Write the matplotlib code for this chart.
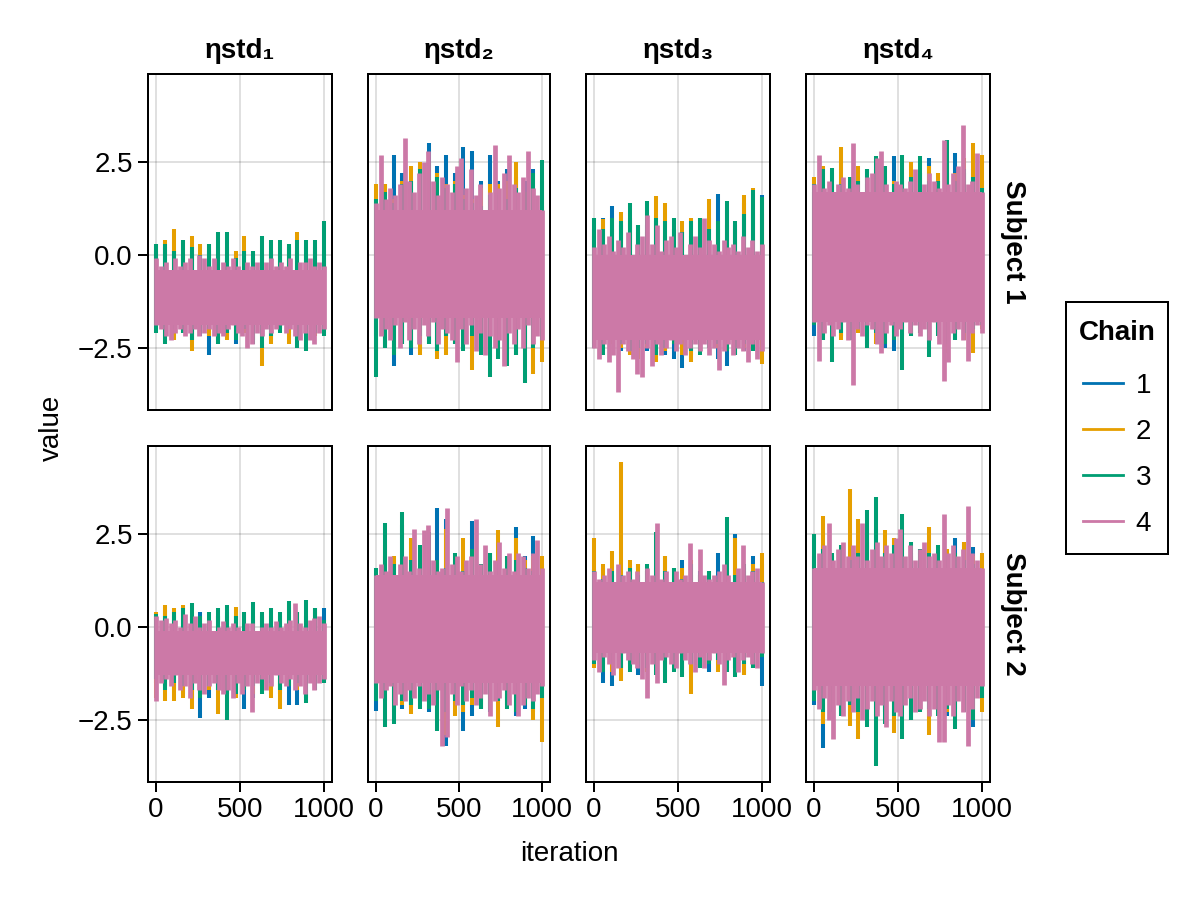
import numpy as np
import matplotlib
matplotlib.use("Agg")
import matplotlib.pyplot as plt
from matplotlib.lines import Line2D
from matplotlib.patches import Rectangle

plt.rcParams['font.family'] = ['Liberation Sans', 'DejaVu Sans']

# Values. Each list alternates high, low, high, low...
# along the chain, since only the extremes of the traces can be told apart.

# Subject 1, eta 1
s1e1_c1 = [0.1,-1.9, 0.2,-2.0, 0.1,-2.2, 0.0,-2.1, 0.1,-2.3, 0.0,-2.2, 0.1,-2.7, 0.0,-2.3, -0.1,-2.2, 0.0,-2.4, 0.1,-2.1, -0.1,-2.3, 0.0,-2.2, 0.1,-2.3, 0.0,-2.0, 0.2,-2.1, 0.1,-2.3, 0.0,-2.2, 0.2,-2.0, 0.1,-2.0]
s1e1_c2 = [0.3,-1.9, 0.4,-2.2, 0.7,-2.3, 0.4,-2.0, 0.5,-2.6, 0.3,-2.1, 0.3,-2.2, 0.2,-2.4, 0.2,-2.3, 0.1,-2.1, 0.5,-2.1, 0.1,-2.3, 0.0,-3.0, 0.1,-2.4, 0.2,-2.0, 0.3,-2.4, 0.6,-1.9, 0.2,-2.0, 0.1,-2.2, -0.1,-2.1]
s1e1_c3 = [0.3,-2.1, 0.3,-2.4, 0.1,-2.0, 0.4,-2.1, 0.2,-2.3, 0.0,-2.1, 0.3,-2.0, 0.6,-2.4, 0.6,-2.1, -0.1,-2.3, 0.1,-2.0, 0.1,-2.4, 0.5,-2.5, 0.4,-2.2, 0.4,-2.1, 0.3,-2.0, 0.4,-2.5, 0.4,-2.6, 0.4,-2.1, 0.9,-2.2]
s1e1_c4 = [-0.1,-1.9, -0.3,-2.0, -0.2,-2.2, -0.4,-2.3, -0.1,-2.1, -0.3,-2.0, -0.2,-2.2, -0.1,-2.1, -0.4,-2.0, 0.0,-2.2, -0.1,-2.1, -0.3,-2.0, -0.1,-2.2, -0.4,-2.1, -0.2,-2.2, -0.3,-2.0, -0.1,-1.9, -0.3,-2.1, -0.4,-2.2, -0.2,-2.5, -0.3,-2.4, -0.2,-2.1, -0.4,-2.2, -0.2,-2.0, -0.1,-2.1, -0.3,-2.0, -0.2,-1.9, -0.3,-2.1, -0.1,-2.0, -0.4,-2.2, -0.2,-2.3, -0.2,-2.1, -0.1,-2.3, -0.3,-2.4, -0.2,-2.1, -0.3,-2.0]

# Subject 1, eta 2
s1e2_c1 = [1.5,-2.2, 1.9,-2.5, 2.7,-3.0, 2.2,-2.4, 2.0,-2.7, 2.4,-2.6, 3.0,-2.4, 2.4,-2.5, 2.7,-2.3, 2.2,-2.4, 2.9,-2.2, 2.8,-2.3, 2.0,-2.6, 2.7,-2.3, 2.0,-2.2, 2.3,-2.5, 2.1,-2.7, 2.0,-2.4, 2.3,-2.3, 2.0,-2.1]
s1e2_c2 = [1.9,-2.6, 1.9,-2.4, 1.5,-2.5, 2.0,-2.2, 2.4,-2.5, 2.5,-2.7, 1.8,-2.4, 2.2,-2.8, 1.9,-2.7, 2.0,-2.4, 1.6,-2.5, 1.5,-3.1, 1.8,-2.6, 1.9,-2.4, 1.9,-2.5, 2.0,-2.7, 2.5,-2.3, 1.7,-2.6, 1.4,-3.2, 1.3,-2.9]
s1e2_c3 = [1.5,-3.3, 1.7,-2.5, 1.4,-2.7, 1.9,-2.4, 2.0,-2.5, 2.3,-2.2, 2.5,-2.4, 2.1,-2.6, 1.8,-2.2, 1.9,-2.4, 1.5,-2.6, 1.4,-2.2, 1.3,-2.7, 1.6,-3.3, 1.6,-2.8, 1.5,-3.0, 1.8,-2.7, 1.7,-3.45, 2.2,-2.5, 2.55,-2.3]
s1e2_c4 = [1.4,-1.7, 2.7,-2.2, 1.5,-2.0, 1.8,-2.3, 1.6,-1.9, 1.9,-2.5, 3.15,-1.8, 2.0,-2.3, 1.7,-2.0, 2.2,-2.4, 2.5,-1.9, 2.8,-2.2, 2.0,-1.8, 1.6,-2.4, 2.1,-2.0, 1.9,-2.1, 1.7,-2.3, 2.4,-2.9, 2.6,-2.0, 1.8,-2.4, 2.3,-1.9, 1.6,-2.6, 1.9,-2.1, 1.2,-2.7, 1.7,-2.2, 2.95,-2.5, 1.8,-2.3, 2.2,-3.0, 2.7,-2.1, 1.9,-2.4, 1.7,-2.0, 2.1,-2.5, 2.8,-1.9, 1.8,-2.4, 1.6,-2.2, 1.2,-2.3]

# Subject 1, eta 3
s1e3_c1 = [0.7,-2.5, 1.0,-2.4, 1.3,-2.3, 0.8,-2.6, 1.0,-2.5, 0.6,-2.8, 0.8,-2.6, 0.9,-2.4, 0.5,-2.7, 0.7,-2.8, 0.6,-3.05, 0.5,-2.7, 0.5,-2.6, 1.0,-2.5, 1.65,-2.8, 1.2,-3.0, 0.8,-2.7, 1.4,-2.6, 1.2,-2.5, 1.6,-2.9]
s1e3_c2 = [0.5,-2.4, 0.95,-2.6, 0.7,-2.4, 1.15,-2.5, 0.9,-2.7, 0.8,-2.8, 0.6,-2.5, 1.57,-2.9, 1.4,-2.6, 0.7,-2.4, 0.9,-2.7, 1.0,-2.9, 1.0,-2.5, 1.5,-2.4, 0.7,-2.5, 0.8,-2.3, 0.7,-2.7, 1.6,-2.5, 1.8,-2.6, 1.1,-2.95]
s1e3_c3 = [1.0,-2.5, 0.7,-2.7, 1.0,-2.3, 0.9,-2.4, 1.4,-2.6, 0.8,-2.5, 1.45,-2.4, 1.0,-2.7, 0.9,-2.5, 1.0,-2.4, 0.6,-2.3, 0.9,-2.6, 1.0,-2.7, 0.7,-2.5, 0.9,-2.4, 1.45,-2.6, 0.9,-2.7, 1.1,-2.4, 1.75,-2.6, 1.55,-2.2]
s1e3_c4 = [0.2,-2.5, 0.7,-2.8, 0.3,-2.4, 0.5,-2.9, 0.1,-2.7, 0.4,-3.7, 0.2,-2.4, 0.6,-2.6, 0.0,-2.8, 0.3,-3.2, 0.5,-3.3, 1.08,-2.5, 0.3,-3.0, 0.8,-2.4, 0.1,-2.7, 0.4,-2.5, 0.5,-2.3, 0.2,-2.6, 0.6,-2.4, 0.0,-2.7, 0.3,-2.5, 0.5,-2.4, 0.2,-2.6, 1.0,-2.4, 0.4,-2.7, 0.3,-2.5, 0.1,-3.1, 0.4,-2.6, 0.2,-2.4, 0.3,-2.7, 0.1,-2.5, 0.5,-2.6, 0.2,-2.9, 0.4,-2.4, 0.1,-2.8, 0.3,-2.6]

# Subject 1, eta 4
s1e4_c1 = [1.7,-2.2, 1.5,-2.3, 1.9,-1.9, 2.0,-2.2, 1.8,-2.3, 2.1,-1.9, 2.3,-2.4, 2.0,-2.0, 1.6,-2.5, 2.65,-2.6, 2.0,-2.2, 2.1,-2.1, 2.2,-2.0, 2.6,-2.4, 2.0,-2.1, 2.2,-2.2, 2.75,-2.3, 2.2,-2.2, 2.3,-2.0, 2.0,-1.8]
s1e4_c2 = [2.1,-1.7, 2.4,-2.1, 2.2,-1.9, 2.9,-2.3, 2.0,-2.0, 2.4,-2.1, 1.9,-2.2, 2.3,-2.4, 2.1,-2.3, 2.0,-2.1, 2.3,-1.8, 2.5,-2.2, 2.2,-2.1, 2.4,-2.2, 2.2,-2.0, 1.9,-2.65, 2.2,-2.1, 2.6,-2.3, 3.0,-2.65, 2.7,-2.0]
s1e4_c3 = [1.9,-1.9, 2.3,-2.3, 2.35,-2.9, 1.9,-2.1, 2.1,-2.3, 2.0,-2.0, 2.3,-2.5, 2.65,-2.1, 2.4,-2.4, 1.9,-2.3, 2.7,-3.1, 2.1,-2.2, 2.65,-2.1, 2.0,-2.75, 2.0,-2.2, 3.1,-2.4, 2.0,-2.3, 2.3,-2.1, 2.1,-2.0, 1.8,-1.9]
s1e4_c4 = [1.9,-1.8, 2.7,-2.85, 1.8,-2.1, 2.0,-1.9, 1.7,-2.2, 1.9,-2.0, 2.1,-1.8, 1.8,-2.3, 3.0,-3.5, 1.9,-2.0, 1.7,-2.2, 2.1,-1.9, 2.2,-2.0, 2.6,-2.4, 2.8,-2.65, 1.9,-2.1, 1.7,-1.9, 2.0,-2.2, 1.9,-2.0, 1.8,-1.8, 2.0,-2.1, 2.3,-1.9, 1.7,-2.2, 1.9,-2.0, 2.2,-2.3, 2.0,-1.8, 1.8,-2.4, 3.1,-3.4, 1.9,-2.9, 2.2,-2.1, 2.4,-2.0, 3.5,-2.3, 1.9,-2.85, 2.0,-2.1, 2.75,-1.9, 1.7,-2.1]

# Subject 2, eta 1
s2e1_c1 = [0.3,-1.5, 0.45,-1.6, 0.3,-1.7, 0.2,-1.8, 0.3,-1.9, 0.4,-2.45, 0.1,-1.9, 0.3,-1.7, 0.4,-1.8, 0.3,-1.7, 0.1,-2.2, 0.2,-1.9, 0.3,-1.6, 0.2,-1.7, 0.3,-1.8, 0.1,-2.1, 0.4,-2.1, 0.3,-1.9, 0.5,-1.7, 0.5,-1.5]
s2e1_c2 = [0.4,-1.9, 0.6,-2.0, 0.5,-2.0, 0.6,-1.9, 0.4,-2.2, 0.3,-1.8, 0.2,-1.7, 0.3,-2.35, 0.3,-1.8, 0.55,-1.9, 0.4,-1.7, 0.3,-1.8, 0.2,-1.6, 0.3,-1.9, 0.2,-2.2, 0.6,-1.6, 0.4,-1.7, 0.2,-1.6, 0.4,-1.5, 0.2,-1.3]
s2e1_c3 = [0.35,-1.4, 0.3,-1.7, 0.4,-1.5, 0.5,-1.6, 0.65,-1.7, 0.3,-1.9, 0.4,-1.6, 0.5,-1.7, 0.6,-2.5, 0.3,-1.8, 0.4,-1.7, 0.67,-1.6, 0.4,-1.8, 0.5,-1.5, 0.4,-1.7, 0.7,-1.6, 0.4,-1.5, 0.73,-2.05, 0.5,-1.7, 0.2,-1.5]
s2e1_c4 = [0.3,-2.0, 0.2,-1.5, 0.25,-1.4, 0.1,-1.6, 0.2,-1.3, 0.0,-1.7, 0.35,-1.6, 0.1,-1.9, 0.3,-1.5, 0.0,-1.7, 0.1,-1.8, 0.2,-1.6, -0.1,-1.5, 0.0,-1.7, 0.15,-1.8, 0.0,-1.7, 0.1,-1.9, 0.0,-1.5, -0.1,-1.8, 0.1,-1.6, 0.1,-2.3, -0.1,-1.5, 0.0,-1.4, 0.1,-1.7, 0.0,-1.6, 0.15,-1.3, 0.0,-1.5, 0.1,-1.6, 0.2,-1.4, 0.65,-1.7, 0.1,-1.6, 0.0,-1.8, 0.2,-1.5, 0.25,-1.7, 0.3,-1.5, 0.1,-1.4]

# Subject 2, eta 2
s2e2_c1 = [1.4,-2.25, 1.9,-1.6, 1.7,-2.0, 2.75,-2.2, 1.6,-2.1, 1.5,-1.9, 1.8,-2.3, 3.2,-1.9, 2.9,-3.2, 1.7,-2.1, 1.5,-2.8, 2.85,-2.4, 1.6,-2.2, 2.0,-2.3, 1.8,-2.0, 1.6,-2.1, 2.7,-2.4, 1.9,-2.2, 2.45,-2.3, 1.7,-2.3]
s2e2_c2 = [1.3,-1.6, 2.2,-2.0, 1.9,-2.3, 1.5,-2.1, 2.4,-2.35, 1.7,-2.0, 1.9,-2.2, 1.8,-1.9, 2.65,-2.9, 1.8,-2.4, 2.4,-2.3, 1.7,-2.1, 1.6,-2.2, 1.9,-1.9, 2.6,-2.7, 1.9,-2.2, 2.4,-2.3, 1.8,-2.0, 1.9,-2.5, 1.9,-3.1]
s2e2_c3 = [1.6,-2.0, 2.8,-2.7, 1.7,-2.6, 3.1,-2.0, 1.8,-2.1, 2.2,-2.2, 2.55,-2.2, 1.8,-2.8, 1.6,-2.3, 2.0,-2.0, 1.5,-2.1, 2.1,-1.9, 1.7,-2.2, 2.0,-2.2, 1.7,-2.0, 1.9,-2.2, 1.8,-2.3, 1.6,-2.1, 1.5,-2.2, 1.4,-1.9]
s2e2_c4 = [1.4,-1.5, 1.7,-1.9, 1.5,-1.7, 1.9,-1.6, 1.4,-2.1, 1.7,-1.8, 1.9,-2.0, 1.5,-1.7, 2.65,-1.9, 1.6,-1.6, 2.6,-2.0, 2.75,-1.8, 1.8,-2.1, 1.5,-1.7, 1.6,-3.2, 3.2,-2.95, 1.7,-1.8, 1.9,-2.1, 1.5,-1.6, 1.8,-2.0, 1.9,-1.7, 2.9,-2.1, 1.7,-1.9, 2.2,-1.8, 1.5,-2.4, 1.8,-2.0, 2.3,-1.9, 1.6,-1.7, 2.0,-2.1, 1.5,-1.8, 2.0,-2.4, 1.9,-2.1, 1.6,-1.9, 2.0,-2.0, 2.35,-1.8, 1.6,-1.6]

# Subject 2, eta 3
s2e3_c1 = [1.55,-0.8, 1.6,-1.5, 1.4,-1.6, 1.5,-1.1, 1.6,-1.0, 1.7,-1.3, 1.5,-1.2, 1.3,-0.9, 1.9,-1.2, 1.6,-1.0, 1.8,-1.3, 1.4,-1.2, 1.5,-1.0, 1.3,-1.2, 2.0,-0.9, 1.5,-1.1, 2.5,-1.1, 1.6,-1.3, 1.9,-1.1, 1.7,-1.6]
s2e3_c2 = [2.4,-1.1, 1.7,-1.0, 2.05,-1.2, 4.45,-1.45, 1.8,-1.1, 1.7,-0.9, 1.5,-1.2, 1.6,-1.0, 1.9,-1.0, 1.4,-0.9, 1.6,-1.1, 1.8,-1.8, 1.4,-0.9, 1.5,-1.0, 1.3,-1.2, 1.6,-1.0, 2.4,-1.1, 1.5,-1.3, 1.7,-1.1, 2.0,-0.7]
s2e3_c3 = [1.5,-1.0, 1.3,-1.2, 1.5,-1.0, 1.4,-1.1, 1.6,-1.2, 1.4,-1.0, 1.7,-1.1, 2.55,-1.3, 1.5,-1.5, 1.6,-1.2, 1.3,-1.35, 1.7,-1.0, 1.4,-1.1, 1.5,-1.0, 1.3,-0.9, 2.95,-1.2, 1.4,-1.35, 1.7,-1.0, 1.5,-1.1, 1.2,-0.8]
s2e3_c4 = [1.5,-0.9, 1.3,-1.2, 1.4,-0.8, 1.6,-1.0, 1.2,-1.3, 1.7,-1.1, 1.4,-0.7, 1.5,-0.9, 1.3,-1.0, 1.5,-1.1, 1.2,-1.4, 1.6,-1.9, 1.4,-1.0, 2.8,-1.5, 1.3,-0.9, 1.5,-0.8, 1.2,-1.0, 1.5,-1.1, 1.3,-0.7, 1.4,-0.9, 2.25,-1.0, 1.2,-1.2, 2.1,-0.8, 1.4,-1.1, 1.3,-0.9, 1.4,-0.7, 1.5,-1.0, 1.7,-1.55, 1.4,-0.9, 1.2,-0.8, 1.6,-1.2, 2.2,-0.9, 1.4,-0.8, 1.5,-1.0, 1.6,-1.1, 1.2,-0.7]

# Subject 2, eta 4
s2e4_c1 = [1.9,-2.1, 2.2,-3.25, 1.9,-2.3, 2.0,-2.2, 1.9,-2.4, 1.8,-2.2, 2.3,-2.3, 2.65,-2.2, 2.0,-2.3, 1.7,-2.4, 1.8,-2.0, 2.0,-2.5, 2.1,-2.2, 1.9,-2.3, 1.8,-2.1, 1.9,-2.4, 2.4,-2.2, 2.3,-2.1, 2.15,-2.7, 1.9,-1.9]
s2e4_c2 = [1.8,-1.8, 3.0,-2.6, 1.9,-2.1, 2.1,-2.3, 3.7,-2.65, 2.9,-3.0, 2.2,-2.5, 2.0,-2.4, 2.6,-2.3, 2.4,-2.85, 2.1,-2.1, 1.9,-2.2, 2.0,-2.3, 2.7,-2.9, 1.9,-2.2, 2.1,-2.3, 2.0,-2.4, 2.3,-2.0, 1.9,-2.2, 2.0,-2.3]
s2e4_c3 = [2.5,-2.0, 2.1,-2.3, 2.0,-2.2, 2.2,-2.4, 1.8,-2.1, 2.0,-2.3, 3.15,-2.7, 3.5,-3.75, 2.0,-2.6, 2.2,-2.4, 3.05,-3.0, 2.3,-2.5, 2.1,-2.3, 2.0,-2.2, 2.2,-2.4, 1.9,-2.2, 2.0,-2.75, 1.8,-2.3, 1.7,-2.5, 1.5,-1.9]
s2e4_c4 = [1.6,-1.7, 2.0,-2.2, 2.2,-1.9, 2.8,-2.5, 1.8,-3.0, 2.1,-2.1, 2.3,-2.4, 1.9,-2.0, 2.2,-2.3, 1.9,-1.9, 2.8,-2.5, 1.8,-2.2, 2.1,-2.0, 2.3,-2.4, 1.9,-2.1, 2.2,-2.7, 2.0,-2.0, 2.4,-2.3, 2.65,-2.4, 1.9,-2.1, 2.2,-1.9, 1.8,-2.3, 2.1,-2.2, 2.3,-2.0, 1.9,-2.4, 2.0,-2.2, 1.8,-3.1, 3.05,-3.1, 2.0,-2.1, 2.2,-2.4, 1.9,-2.0, 2.1,-2.3, 3.25,-3.2, 2.0,-2.2, 1.8,-1.9, 1.6,-1.6]

etas = ['ηstd₁', 'ηstd₂', 'ηstd₃', 'ηstd₄']
subjects = ['Subject 1', 'Subject 2']
chains = ['1', '2', '3', '4']
colors = ['#0072B2', '#E69F00', '#009E73', '#CC79A7']
yticks = [-2.5, 0, 2.5]
xticks = [0, 500, 1000]

traces = [
    [[s1e1_c1, s1e1_c2, s1e1_c3, s1e1_c4], [s1e2_c1, s1e2_c2, s1e2_c3, s1e2_c4],
     [s1e3_c1, s1e3_c2, s1e3_c3, s1e3_c4], [s1e4_c1, s1e4_c2, s1e4_c3, s1e4_c4]],
    [[s2e1_c1, s2e1_c2, s2e1_c3, s2e1_c4], [s2e2_c1, s2e2_c2, s2e2_c3, s2e2_c4],
     [s2e3_c1, s2e3_c2, s2e3_c3, s2e3_c4], [s2e4_c1, s2e4_c2, s2e4_c3, s2e4_c4]],
]

W, H = 1200, 900
FS = 20
LW = 1.44

# panel edges in pixels
col_edges = [(148, 332), (368, 550), (586, 770), (806, 990)]
row_edges = [(74, 409.5), (446, 782)]

fig = plt.figure(figsize=(W / 100, H / 100), dpi=100)

for r, (top, bottom) in enumerate(row_edges):
    for c, (left, right) in enumerate(col_edges):
        ax = fig.add_axes([left / W, 1 - bottom / H, (right - left) / W, (bottom - top) / H])
        for k, vals in enumerate(traces[r][c]):
            highs = np.array(vals[::2])
            lows = np.array(vals[1::2])
            x = np.linspace(1, 1000, len(highs))
            # last chain sits on top and hides the others in the middle of the band
            if k == 3:
                ax.fill_between([1, 1000], lows.max(), highs.min(), color=colors[k], lw=0, zorder=2 + k)
                ax.vlines(x, lows, highs, color=colors[k], lw=3.4, zorder=2 + k)
            else:
                ax.vlines(x, lows, highs, color=colors[k], lw=2.9, zorder=2 + k)
        ax.set_xlim(-48, 1048)
        ax.set_ylim(-4.17, 4.87)
        ax.set_xticks(xticks)
        ax.set_yticks(yticks)
        ax.set_yticklabels(['−2.5', '0.0', '2.5'])
        ax.grid(True, color='black', alpha=0.12, lw=LW)
        ax.set_axisbelow(True)
        for s in ax.spines.values():
            s.set_linewidth(LW)
            s.set_zorder(10)
        ax.tick_params(length=7, width=LW, labelsize=FS, pad=4,
                       bottom=(r == 1), labelbottom=(r == 1),
                       left=(c == 0), labelleft=(c == 0))

for c, (left, right) in enumerate(col_edges):
    fig.text((left + right) / 2 / W, 1 - 51 / H, etas[c], fontsize=FS, fontweight='bold',
             ha='center', va='center')
for r, (top, bottom) in enumerate(row_edges):
    fig.text(1013 / W, 1 - ((top + bottom) / 2) / H, subjects[r], fontsize=FS, fontweight='bold',
             rotation=-90, ha='center', va='center')

fig.text(569 / W, 1 - 854 / H, 'iteration', fontsize=FS, ha='center', va='center')
fig.text(52 / W, 1 - 428 / H, 'value', fontsize=FS, rotation=90, ha='center', va='center')

# legend box drawn apart so the padding can differ from side to side
fig.add_artist(Rectangle((1066 / W, 1 - 554 / H), 102 / W, 252 / H, transform=fig.transFigure,
                         fc='white', ec='black', lw=LW))
handles = [Line2D([0], [0], color=col, lw=LW * 1.4) for col in colors]
leg = fig.legend(handles, chains, title='Chain', loc='upper center',
                 bbox_to_anchor=(1117 / W, 1 - 320.5 / H), fontsize=FS,
                 title_fontproperties={'size': FS, 'weight': 'bold'},
                 frameon=False, handlelength=1.44, handletextpad=0.47,
                 labelspacing=0.72, borderpad=0, borderaxespad=0)
leg._legend_box.sep = 19

fig.savefig('out.png', dpi=100)
